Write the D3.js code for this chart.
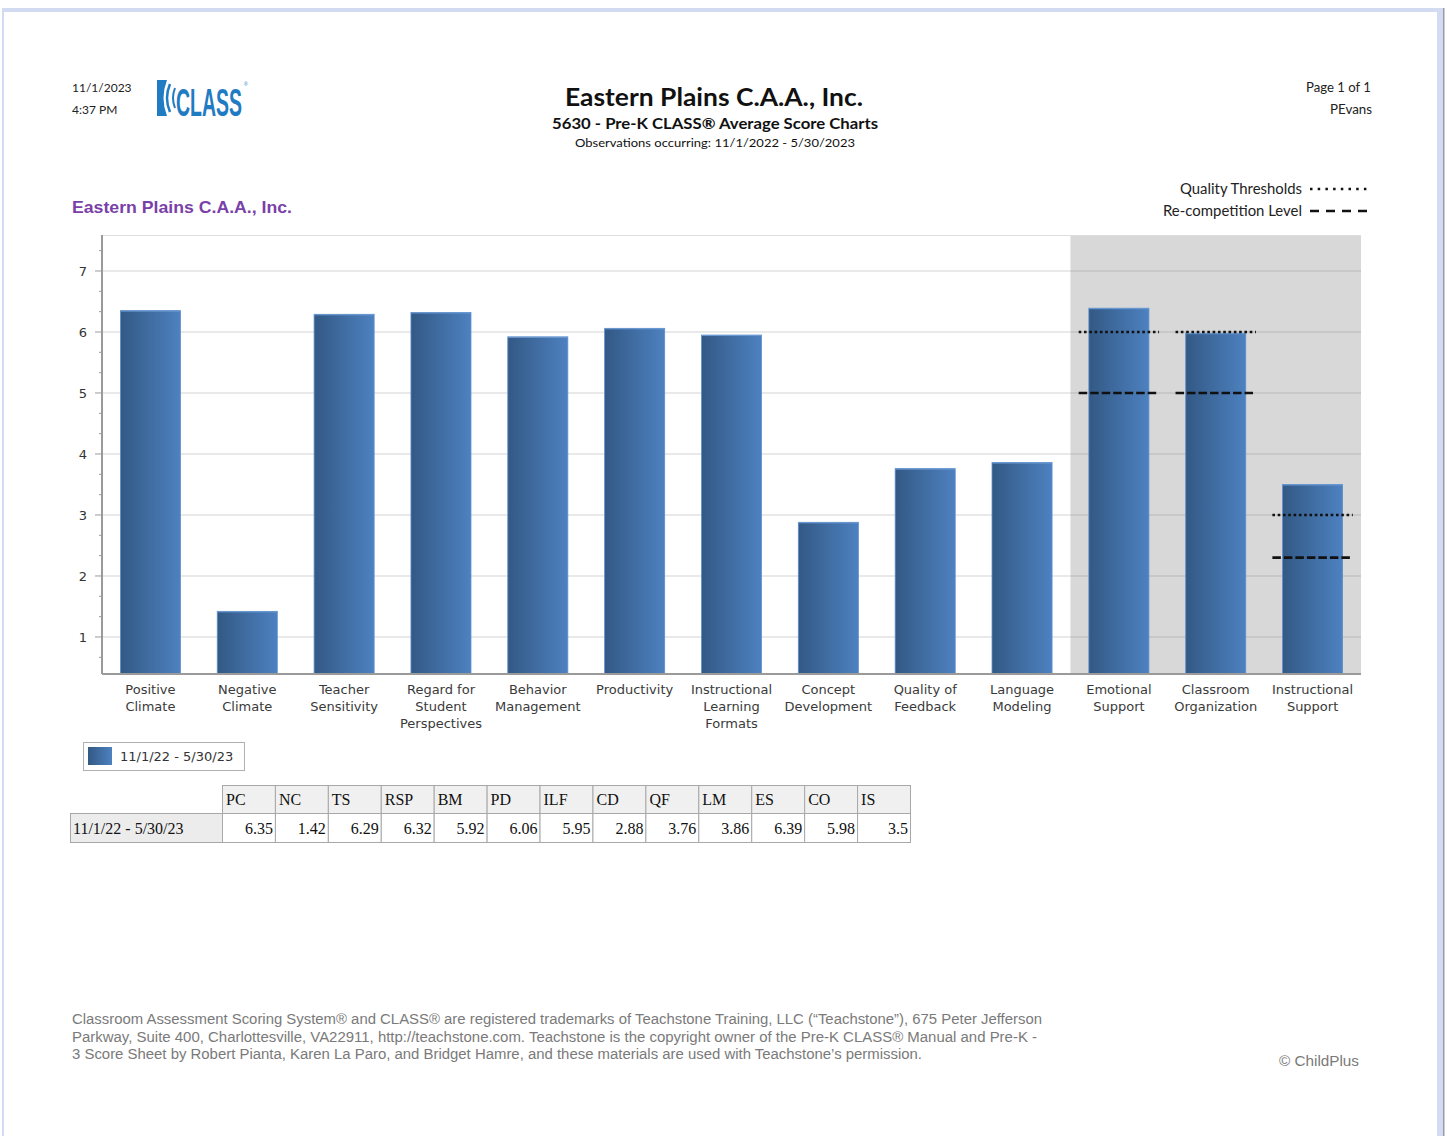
<!DOCTYPE html>
<html>
<head>
<meta charset="utf-8">
<script src="https://cdn.jsdelivr.net/npm/d3@7"></script>
<style>
  html, body { margin: 0; padding: 0; background: #fff; }
  svg { display: block; }
</style>
</head>
<body>
<svg id="chart" width="1447" height="1136"></svg>
<script>
// ---------- DATA ----------
const codes = ["PC","NC","TS","RSP","BM","PD","ILF","CD","QF","LM","ES","CO","IS"];
const categoryLabels = [
  ["Positive","Climate"],
  ["Negative","Climate"],
  ["Teacher","Sensitivity"],
  ["Regard for","Student","Perspectives"],
  ["Behavior","Management"],
  ["Productivity"],
  ["Instructional","Learning","Formats"],
  ["Concept","Development"],
  ["Quality of","Feedback"],
  ["Language","Modeling"],
  ["Emotional","Support"],
  ["Classroom","Organization"],
  ["Instructional","Support"]
];
const seriesName = "11/1/22 - 5/30/23";
const values = [6.35, 1.42, 6.29, 6.32, 5.92, 6.06, 5.95, 2.88, 3.76, 3.86, 6.39, 5.98, 3.5];
const valueLabels = ["6.35","1.42","6.29","6.32","5.92","6.06","5.95","2.88","3.76","3.86","6.39","5.98","3.5"];
const domainCodes = ["ES","CO","IS"];
const qualityThresholds = [6, 6, 3];
const recompetitionLevels = [5, 5, 2.3];
const yTicks = [1, 2, 3, 4, 5, 6, 7];

// ---------- SETUP ----------
const svg = d3.select("#chart");
const W = 1447, H = 1136;
const headFont = "Lato, 'Open Sans', sans-serif";
const axisFont = "'DejaVu Sans', Verdana, sans-serif";

function fit(sel, w) { sel.attr("textLength", w).attr("lengthAdjust", "spacingAndGlyphs"); return sel; }

// page frame
svg.append("rect").attr("x",0).attr("y",0).attr("width",W).attr("height",H).attr("fill","#fff");
svg.append("rect").attr("x",3).attr("y",8).attr("width",1440).attr("height",4).attr("fill","#d3dbf3");
svg.append("rect").attr("x",2).attr("y",8).attr("width",2).attr("height",H).attr("fill","#d3dbf3");
svg.append("rect").attr("x",1437).attr("y",8).attr("width",6).attr("height",H).attr("fill","#d3dbf3");
svg.append("rect").attr("x",1443).attr("y",8).attr("width",1.5).attr("height",H).attr("fill","#9a9aa6");

// ---------- HEADER ----------
svg.append("text").attr("x",72).attr("y",92).attr("font-family",headFont).attr("font-size",12).attr("fill","#222").text("11/1/2023");
svg.append("text").attr("x",72).attr("y",114).attr("font-family",headFont).attr("font-size",12).attr("fill","#222").text("4:37 PM");

// CLASS logo
const logo = svg.append("g");
const blue = "#1f7bc2";
logo.append("path").attr("d","M157,80 L167,80 Q160,98 167,116 L157,116 Z").attr("fill",blue);
logo.append("path").attr("d","M170,84 Q164,98 170,112").attr("fill","none").attr("stroke",blue).attr("stroke-width",2.5);
logo.append("path").attr("d","M175,88 Q171,98 175,108").attr("fill","none").attr("stroke",blue).attr("stroke-width",2);
const logoText = logo.append("text").attr("x",0).attr("y",0).attr("font-family","'Liberation Sans Narrow','Liberation Sans',Arial,sans-serif")
  .attr("font-weight","bold").attr("font-size",28).attr("fill",blue).text("CLASS");
const natW = logoText.node().getComputedTextLength() || 66;
logoText.attr("transform", `translate(176,116) scale(${66/natW},1.36)`);
logo.append("text").attr("x",244).attr("y",86).attr("font-family","Arial,sans-serif").attr("font-size",5).attr("fill",blue).text("®");

fit(svg.append("text").attr("x",714).attr("y",106).attr("text-anchor","middle").attr("font-family",headFont)
  .attr("font-weight","bold").attr("font-size",24).attr("fill","#111").text("Eastern Plains C.A.A., Inc."), 298);
fit(svg.append("text").attr("x",715).attr("y",129).attr("text-anchor","middle").attr("font-family",headFont)
  .attr("font-weight","bold").attr("font-size",16).attr("fill","#111").text("5630 - Pre-K CLASS® Average Score Charts"), 326);
fit(svg.append("text").attr("x",715).attr("y",147).attr("text-anchor","middle").attr("font-family",headFont)
  .attr("font-size",12).attr("fill","#111").text("Observations occurring: 11/1/2022 - 5/30/2023"), 280);

fit(svg.append("text").attr("x",1371).attr("y",92).attr("text-anchor","end").attr("font-family",headFont).attr("font-size",12.5).attr("fill","#222").text("Page 1 of 1"), 65);
fit(svg.append("text").attr("x",1372).attr("y",114).attr("text-anchor","end").attr("font-family",headFont).attr("font-size",12.5).attr("fill","#222").text("PEvans"), 42);

// threshold legend
fit(svg.append("text").attr("x",1302).attr("y",194).attr("text-anchor","end").attr("font-family",headFont).attr("font-size",14.5).attr("fill","#222").text("Quality Thresholds"), 122);
fit(svg.append("text").attr("x",1302).attr("y",216).attr("text-anchor","end").attr("font-family",headFont).attr("font-size",14.5).attr("fill","#222").text("Re-competition Level"), 139);
svg.append("line").attr("x1",1310).attr("x2",1371).attr("y1",189).attr("y2",189).attr("stroke","#111").attr("stroke-width",2.5).attr("stroke-dasharray","2.5,5.2");
svg.append("line").attr("x1",1310).attr("x2",1368).attr("y1",211).attr("y2",211).attr("stroke","#111").attr("stroke-width",2.5).attr("stroke-dasharray","9,7");

// chart subtitle
fit(svg.append("text").attr("x",72).attr("y",213).attr("font-family","'Liberation Sans',Arial,sans-serif").attr("font-weight","bold")
  .attr("font-size",17).attr("fill","#7a3fa8").text("Eastern Plains C.A.A., Inc."), 220);

// ---------- CHART ----------
const plot = {left: 102, right: 1361, top: 235, bottom: 674};
const x = d3.scaleBand().domain(codes).range([plot.left, plot.right]).paddingInner(0.38).paddingOuter(0.19);
const xFull = d3.scaleBand().domain(codes).range([plot.left, plot.right]).padding(0);
const y = d3.scaleLinear().domain([0.393, 7.59]).range([plot.bottom, plot.top]);

const defs = svg.append("defs");
const grad = defs.append("linearGradient").attr("id","barGrad").attr("x1","0").attr("x2","1").attr("y1","0").attr("y2","0");
grad.append("stop").attr("offset","0%").attr("stop-color","#335985");
grad.append("stop").attr("offset","100%").attr("stop-color","#4d81c0");

// domain shaded region
const shadeX = xFull(domainCodes[0]);
svg.append("rect").attr("x",shadeX).attr("y",plot.top).attr("width",plot.right - shadeX).attr("height",plot.bottom - plot.top).attr("fill","#d8d8d8");

// plot top border
svg.append("line").attr("x1",plot.left).attr("x2",plot.right).attr("y1",plot.top+0.5).attr("y2",plot.top+0.5).attr("stroke","#dedede");

// gridlines
const grid = svg.append("g");
yTicks.forEach(t => {
  grid.append("line").attr("x1",plot.left).attr("x2",shadeX).attr("y1",y(t)).attr("y2",y(t)).attr("stroke","#e2e2e2").attr("stroke-width",1.5);
  grid.append("line").attr("x1",shadeX).attr("x2",plot.right).attr("y1",y(t)).attr("y2",y(t)).attr("stroke","#c3c3c3").attr("stroke-width",1.5);
});

// bars
svg.append("g").selectAll("rect").data(values).join("rect")
  .attr("x",(d,i)=>x(codes[i]))
  .attr("y",d=>y(d))
  .attr("width",x.bandwidth())
  .attr("height",d=>plot.bottom - y(d))
  .attr("fill","url(#barGrad)")
  .attr("stroke","#5d8fcc").attr("stroke-width",0.8);
svg.append("g").selectAll("line").data(values).join("line")
  .attr("x1",(d,i)=>x(codes[i])).attr("x2",(d,i)=>x(codes[i])+x.bandwidth())
  .attr("y1",d=>y(d)+0.5).attr("y2",d=>y(d)+0.5).attr("stroke","#6b9ad3").attr("stroke-width",1);

// threshold lines
const thrW = xFull.bandwidth()*0.83;
const thr = svg.append("g");
domainCodes.forEach((c,i) => {
  const cx = xFull(c) + xFull.bandwidth()/2;
  thr.append("line").attr("x1",cx-thrW/2).attr("x2",cx+thrW/2).attr("y1",y(qualityThresholds[i])).attr("y2",y(qualityThresholds[i]))
    .attr("stroke","#111").attr("stroke-width",2.7).attr("stroke-dasharray","2.6,2.7");
  thr.append("line").attr("x1",cx-thrW/2).attr("x2",cx+thrW/2).attr("y1",y(recompetitionLevels[i])).attr("y2",y(recompetitionLevels[i]))
    .attr("stroke","#111").attr("stroke-width",2.7).attr("stroke-dasharray","8.5,3");
});

// y axis
const ax = svg.append("g");
ax.append("line").attr("x1",plot.left).attr("x2",plot.left).attr("y1",plot.top).attr("y2",plot.bottom).attr("stroke","#9a9a9a").attr("stroke-width",2);
const minorVals = [];
for (let k = -1; k <= 22; k++) { const v = 1 + k/3; if (v > 0.45 && v < 7.55 && Math.abs(v - Math.round(v)) > 0.01) minorVals.push(v); }
ax.selectAll(".minor").data(minorVals).join("line").attr("class","minor")
  .attr("x1",plot.left-3).attr("x2",plot.left).attr("y1",d=>y(d)).attr("y2",d=>y(d)).attr("stroke","#9a9a9a").attr("stroke-width",1);
ax.selectAll(".major").data(yTicks).join("line").attr("class","major")
  .attr("x1",plot.left-7).attr("x2",plot.left).attr("y1",d=>y(d)).attr("y2",d=>y(d)).attr("stroke","#9a9a9a").attr("stroke-width",1);
ax.selectAll(".ylab").data(yTicks).join("text").attr("class","ylab")
  .attr("x",83).attr("y",d=>y(d)+5).attr("text-anchor","middle").attr("font-family",axisFont).attr("font-size",13).attr("fill","#333")
  .text(d=>d);

// x axis line
svg.append("line").attr("x1",plot.left).attr("x2",plot.right).attr("y1",plot.bottom).attr("y2",plot.bottom).attr("stroke","#9a9a9a").attr("stroke-width",2);

// x labels
const xl = svg.append("g");
categoryLabels.forEach((lines,i) => {
  const cx = xFull(codes[i]) + xFull.bandwidth()/2;
  lines.forEach((ln,j) => {
    xl.append("text").attr("x",cx).attr("y",694 + j*17.2).attr("text-anchor","middle")
      .attr("font-family",axisFont).attr("font-size",13).attr("fill","#3a3a3a").text(ln);
  });
});

// legend box
svg.append("rect").attr("x",83.5).attr("y",742.5).attr("width",161).attr("height",28).attr("fill","#fff").attr("stroke","#b0b0b0");
svg.append("rect").attr("x",88).attr("y",747).attr("width",24).attr("height",18).attr("fill","url(#barGrad)");
svg.append("text").attr("x",120).attr("y",761).attr("font-family",axisFont).attr("font-size",13).attr("fill","#333").text(seriesName);

// ---------- TABLE ----------
const tbl = svg.append("g");
const tX0 = 70, tX1 = 222, tEnd = 910;
const colW = (tEnd - tX1) / codes.length;
const r1 = 785, r2 = 813, r3 = 842;
const serif = "'Liberation Serif','Times New Roman',serif";
codes.forEach((c,i) => {
  const cx = tX1 + i*colW;
  tbl.append("rect").attr("x",cx+0.5).attr("y",r1+0.5).attr("width",colW).attr("height",r2-r1).attr("fill","#f0f0f0").attr("stroke","#a8a8a8");
  tbl.append("text").attr("x",cx+4).attr("y",r1+20).attr("font-family",serif).attr("font-size",16).attr("fill","#111").text(c);
  tbl.append("rect").attr("x",cx+0.5).attr("y",r2+0.5).attr("width",colW).attr("height",r3-r2).attr("fill","#fff").attr("stroke","#a8a8a8");
  tbl.append("text").attr("x",cx+colW-2).attr("y",r2+21).attr("text-anchor","end").attr("font-family",serif).attr("font-size",16).attr("fill","#111").text(valueLabels[i]);
});
tbl.append("rect").attr("x",tX0+0.5).attr("y",r2+0.5).attr("width",tX1-tX0).attr("height",r3-r2).attr("fill","#ececec").attr("stroke","#a8a8a8");
tbl.append("text").attr("x",tX0+3).attr("y",r2+21).attr("font-family",serif).attr("font-size",16).attr("fill","#111").text(seriesName);

// ---------- FOOTER ----------
const footFont = "'Liberation Sans Narrow','Liberation Sans',Arial,sans-serif";
const foot = [
  ["Classroom Assessment Scoring System® and CLASS® are registered trademarks of Teachstone Training, LLC (“Teachstone”), 675 Peter Jefferson", 970],
  ["Parkway, Suite 400, Charlottesville, VA22911, http://teachstone.com. Teachstone is the copyright owner of the Pre-K CLASS® Manual and Pre-K -", 965],
  ["3 Score Sheet by Robert Pianta, Karen La Paro, and Bridget Hamre, and these materials are used with Teachstone’s permission.", 850]
];
foot.forEach((f,i) => {
  fit(svg.append("text").attr("x",72).attr("y",1024 + i*17.5).attr("font-family",footFont).attr("font-size",14).attr("fill","#7a7a7a").text(f[0]), f[1]);
});
fit(svg.append("text").attr("x",1359).attr("y",1066).attr("text-anchor","end").attr("font-family","'Liberation Sans',Arial,sans-serif").attr("font-size",14).attr("fill","#7a7a7a").text("© ChildPlus"), 80);
</script>
</body>
</html>
